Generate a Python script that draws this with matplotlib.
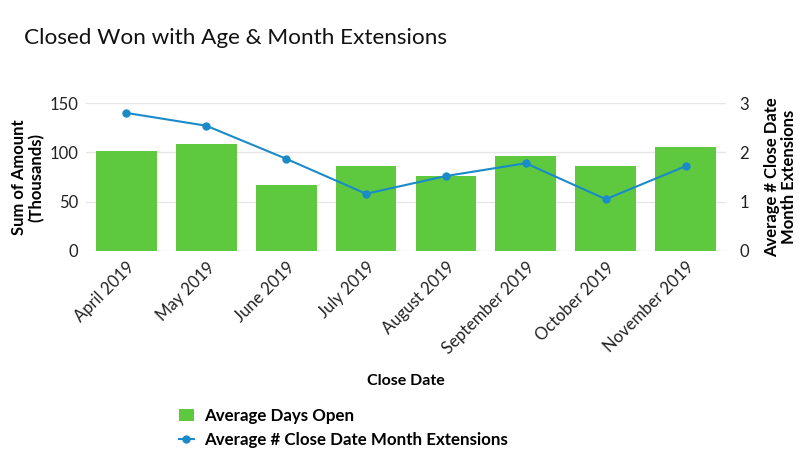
import numpy as np
import matplotlib.pyplot as plt

plt.rcParams['font.family'] = ['Lato', 'DejaVu Sans']

months = ['April 2019', 'May 2019', 'June 2019', 'July 2019', 'August 2019',
          'September 2019', 'October 2019', 'November 2019']
days_open = [101, 108, 67, 86, 76, 96, 86, 105]
extensions = [2.80, 2.54, 1.87, 1.16, 1.52, 1.78, 1.05, 1.72]

green = '#5ec83f'
blue = '#1a8bc8'
grid = '#e6e6e6'

fig = plt.figure(figsize=(8, 4.58), dpi=100)
ax = fig.add_axes([0.108, 0.452, 0.799, 0.323])
x = np.arange(len(months))
bars = ax.bar(x, days_open, width=0.76, color=green, label='Average Days Open', zorder=2)
ax.set_xlim(-0.5, len(months) - 0.5)
ax.set_ylim(0, 150)
ax.set_yticks([0, 50, 100, 150])
ax.grid(axis='y', color=grid, linewidth=1, zorder=0)
for s in ax.spines.values():
    s.set_visible(False)
ax.tick_params(axis='both', length=0, labelsize=12, colors='#222222', pad=6)
ax.set_xticks(x)
ax.set_xticklabels(months, rotation=45, ha='right', rotation_mode='anchor')
ax.set_ylabel('Sum of Amount\n(Thousands)', fontsize=12, fontweight='bold', labelpad=3,
              linespacing=1.1)
ax.set_xlabel('Close Date', fontsize=11.5, fontweight='bold', labelpad=12)

ax2 = ax.twinx()
line, = ax2.plot(x, extensions, color=blue, marker='o', markersize=5, linewidth=1.5,
                 label='Average # Close Date Month Extensions', zorder=3)
ax2.set_ylim(0, 3)
ax2.set_yticks([0, 1, 2, 3])
for s in ax2.spines.values():
    s.set_visible(False)
ax2.tick_params(axis='y', length=0, labelsize=12, colors='#222222', pad=10)
ax2.set_ylabel('Average # Close Date\nMonth Extensions', fontsize=12, fontweight='bold',
               labelpad=11, linespacing=1.05)

fig.text(0.03, 0.918, 'Closed Won with Age & Month Extensions', fontsize=16.2,
         color='#111111', va='center')

fig.legend(handles=[bars, line], loc='upper left', bbox_to_anchor=(0.215, 0.125),
           frameon=False, handlelength=0.9, handletextpad=0.6,
           labelspacing=0.5, borderaxespad=0,
           prop={'size': 12.2, 'weight': 'bold'})

fig.savefig('out.png', dpi=100)
